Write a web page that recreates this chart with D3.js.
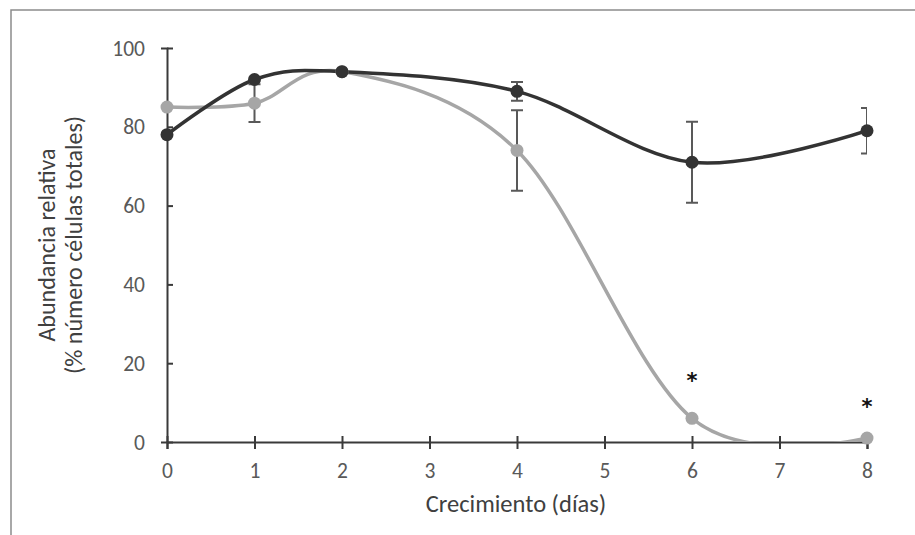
<!DOCTYPE html>
<html lang="es">
<head>
<meta charset="UTF-8">
<title>Abundancia relativa</title>
<script src="https://d3js.org/d3.v7.min.js"></script>
<style>
    body { margin: 0; background: #fff; }
    svg { display: block; }
    text { font-family: Carlito, "Liberation Sans Narrow", "Open Sans", sans-serif; }
</style>
</head>
<body>
<svg width="915" height="535"></svg>
<script>
    // days on the x axis
    const days = [0, 1, 2, 4, 6, 8];
    // dark series and its error
    const darkValues = [78, 92, 94, 89, 71, 79];
    const darkErrors = [0, 0, 0, 2.4, 10.3, 5.8];
    // grey series and its error
    const greyValues = [85, 86, 94, 74, 6, 1];
    const greyErrors = [0, 4.8, 0, 10.2, 0, 0];
    // significance marks: day and height of the star
    const starDays = [6, 8];
    const starValues = [17, 10.5];
    const xTicks = [0, 1, 2, 3, 4, 5, 6, 7, 8];
    const yTicks = [0, 20, 40, 60, 80, 100];

    let svg = d3.select('svg');

    // outer frame (only top and left edges are inside the picture)
    svg.append("path")
        .attr("d", "M11,540 L11,10 L920,10")
        .attr("fill", "none")
        .attr("stroke", "#8c8c8c")
        .attr("stroke-width", 1.5);

    let x = d3.scaleLinear().domain([0, 8]).range([167, 867]);
    let y = d3.scaleLinear().domain([0, 100]).range([442, 48]);

    svg.append("clipPath").attr("id", "plot")
        .append("rect")
        .attr("x", 0).attr("y", 0)
        .attr("width", x(8)).attr("height", y(0));

    // axes with ticks crossing the line
    let yAxis = svg.append("g")
        .attr("transform", `translate(${x(0)},0)`)
        .call(d3.axisLeft(y).tickValues(yTicks).tickSize(6));
    yAxis.selectAll(".tick line").attr("x2", 6);
    yAxis.selectAll(".tick text").attr("x", -22).attr("dy", "0.33em");

    let xAxis = svg.append("g")
        .attr("transform", `translate(0,${y(0)})`)
        .call(d3.axisBottom(x).tickValues(xTicks).tickSize(7));
    xAxis.selectAll(".tick line").attr("y1", -6);
    xAxis.selectAll(".tick text").attr("y", 36).attr("dy", 0);

    svg.selectAll(".domain").attr("stroke", "#3a3a3a").attr("stroke-width", 2);
    svg.selectAll(".tick line").attr("stroke", "#3a3a3a").attr("stroke-width", 2);
    svg.selectAll(".tick text")
        .attr("fill", "#595959")
        .style("font-size", "21.5px");

    // axis titles
    svg.append("text")
        .attr("x", 516).attr("y", 512)
        .attr("text-anchor", "middle")
        .attr("fill", "#404040")
        .style("font-size", "24.5px")
        .text("Crecimiento (días)");

    let yTitle = svg.append("text")
        .attr("transform", "translate(0,245) rotate(-90)")
        .attr("text-anchor", "middle")
        .attr("fill", "#404040")
        .style("font-size", "24px");
    yTitle.append("tspan").attr("x", 0).attr("y", 55).text("Abundancia relativa");
    yTitle.append("tspan").attr("x", 0).attr("y", 82).text("(% número células totales)");

    const grey = days.map((d, i) => ({day: d, value: greyValues[i], err: greyErrors[i]}));
    const dark = days.map((d, i) => ({day: d, value: darkValues[i], err: darkErrors[i]}));

    let line = d3.line()
        .x(d => x(d.day))
        .y(d => y(d.value))
        .curve(d3.curveCatmullRom.alpha(0));

    let lines = svg.append("g").attr("clip-path", "url(#plot)");
    lines.append("path").datum(grey)
        .attr("d", line)
        .attr("fill", "none")
        .attr("stroke", "#a6a6a6")
        .attr("stroke-width", 3.5);
    lines.append("path").datum(dark)
        .attr("d", line)
        .attr("fill", "none")
        .attr("stroke", "#333333")
        .attr("stroke-width", 3.5);

    // error bars
    let errs = svg.append("g")
        .attr("clip-path", "url(#plot)")
        .attr("stroke", "#595959")
        .attr("stroke-width", 2)
        .attr("fill", "none");
    let errData = grey.concat(dark).filter(d => d.err > 0);
    errs.selectAll("path")
        .data(errData)
        .join("path")
        .attr("d", d => {
            let cx = x(d.day), lo = y(d.value - d.err), hi = y(d.value + d.err);
            return `M${cx - 6},${hi}H${cx + 6}M${cx},${hi}V${lo}M${cx - 6},${lo}H${cx + 6}`;
        });

    // markers
    svg.append("g").selectAll("circle")
        .data(grey)
        .join("circle")
        .attr("cx", d => x(d.day))
        .attr("cy", d => y(d.value))
        .attr("r", 6.5)
        .attr("fill", "#a6a6a6");
    svg.append("g").selectAll("circle")
        .data(dark)
        .join("circle")
        .attr("cx", d => x(d.day))
        .attr("cy", d => y(d.value))
        .attr("r", 6.5)
        .attr("fill", "#333333");

    // stars
    svg.append("g").selectAll("text")
        .data(starDays)
        .join("text")
        .attr("x", d => x(d))
        .attr("y", (d, i) => y(starValues[i]) + 13)
        .attr("text-anchor", "middle")
        .attr("fill", "#111")
        .style("font-family", "'DejaVu Sans', sans-serif")
        .style("font-size", "21px")
        .style("font-weight", "bold")
        .text("*");
</script>
</body>
</html>
